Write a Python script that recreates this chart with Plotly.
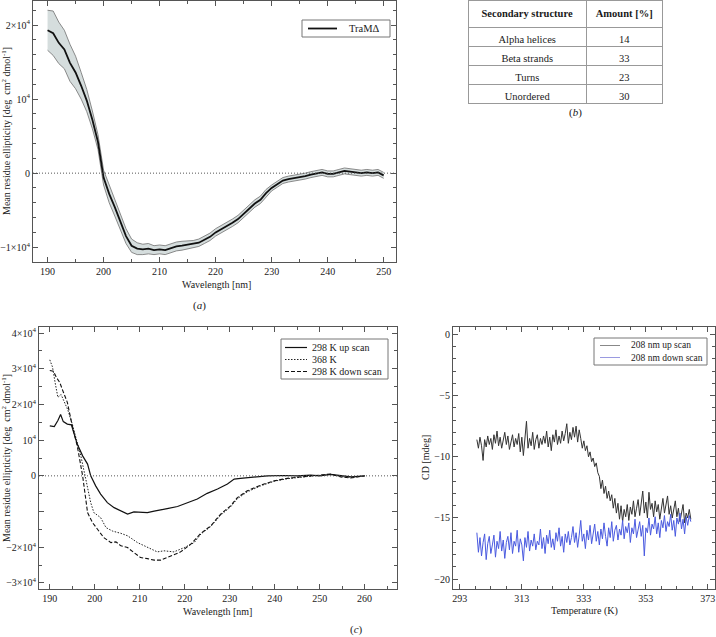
import plotly.graph_objects as go

W, H = 716, 637
FONT = "Liberation Serif"

# ---------------- panel (a): TraMΔ CD spectrum with SD band ----------------
wl_a = list(range(190, 251))
mean_a_1e4 = [1.93, 1.89, 1.76, 1.67, 1.49, 1.36, 1.18, 0.98, 0.72, 0.42,
              -0.06, -0.28, -0.46, -0.66, -0.85, -0.98, -1.02, -1.03, -1.02, -1.04,
              -1.03, -1.04, -1.01, -0.99, -0.98, -0.97, -0.96, -0.94, -0.90, -0.86,
              -0.80, -0.76, -0.72, -0.67, -0.62, -0.55, -0.48, -0.41, -0.36, -0.27,
              -0.20, -0.15, -0.10, -0.08, -0.07, -0.06, -0.04, -0.02, 0.00, 0.01,
              -0.01, -0.01, 0.01, 0.03, 0.02, 0.01, 0.00, 0.01, 0.00, 0.01,
              -0.03]
sd_a_1e4 = [0.27, 0.30, 0.28, 0.26, 0.25, 0.22, 0.18, 0.15, 0.12, 0.10,
            0.10, 0.12, 0.12, 0.11, 0.10, 0.09, 0.08, 0.07, 0.07, 0.06,
            0.06, 0.06, 0.06, 0.06, 0.06, 0.05, 0.05, 0.05, 0.05, 0.05,
            0.05, 0.05, 0.05, 0.05, 0.05, 0.05, 0.05, 0.05, 0.05, 0.05,
            0.04, 0.04, 0.04, 0.04, 0.04, 0.04, 0.04, 0.04, 0.04, 0.04,
            0.04, 0.04, 0.04, 0.04, 0.04, 0.04, 0.04, 0.04, 0.04, 0.04,
            0.04]
name_a = "TraMΔ"

# ---------------- panel (b): secondary structure table ----------------
table_header = ["Secondary structure", "Amount [%]"]
struct_names = ["Alpha helices", "Beta strands", "Turns", "Unordered"]
struct_amount = [14, 33, 23, 30]

# ---------------- panel (c): thermal scans ----------------
wl_up = [190, 191, 191.8, 192.4, 193, 193.9, 194.8, 195.4, 196.1, 197.3, 198.4, 199.1,
         200.2, 201.3, 202.8, 204.3, 205.8, 207.3, 208.7, 210.2, 211.7, 213.2, 214.7,
         216.1, 218.4, 220.6, 222.8, 225, 227.3, 229.5, 231, 232.4, 234.7, 236.1, 238.4,
         242, 245, 248, 250, 252.5, 255, 257, 260]
val_up_1e4 = [1.40, 1.38, 1.55, 1.72, 1.52, 1.45, 1.43, 1.21, 0.89, 0.56, 0.33, 0.0,
              -0.28, -0.51, -0.75, -0.89, -0.98, -1.07, -1.01, -1.01, -1.03, -0.99, -0.96,
              -0.92, -0.86, -0.75, -0.65, -0.49, -0.37, -0.23, -0.09, -0.07, -0.05, -0.02, 0.0,
              0.01, 0.0, 0.02, 0.0, 0.04, 0.0, -0.03, 0.0]
wl_hot = [190.0, 190.6, 191.2, 191.8, 192.5, 193.2, 194, 195, 196, 196.9, 198, 199.1, 199.8,
          201.3, 202.5, 204, 205.8, 207.3, 209.5, 211.7, 213.9, 215.4, 217.6, 219.9, 222.1,
          223.6, 225.8, 228, 230.2, 231.7, 233.9, 236.9, 239.9, 242.8, 245.8, 248.7, 252.4,
          254.7, 256.9, 260]
val_hot_1e4 = [3.25, 3.05, 2.6, 2.2, 2.28, 2.1, 1.85, 1.45, 1.0, 0.56, -0.09, -0.75, -1.03,
               -1.17, -1.45, -1.55, -1.61, -1.68, -1.87, -2.01, -2.13, -2.10, -2.13, -2.01, -1.87,
               -1.63, -1.42, -1.10, -0.87, -0.64, -0.45, -0.28, -0.15, -0.08, -0.03, 0.0, 0.04,
               -0.02, -0.04, 0.0]
wl_down = [190, 190.8, 191.5, 192.2, 193, 193.9, 195, 196.1, 197.3, 198.4, 199.5, 200.6, 202,
           203.6, 204.7, 205.8, 207.3, 208.7, 210.2, 211.7, 213.2, 214.7, 216.1, 217.6, 219.1,
           221.3, 223.6, 225.8, 228, 230.2, 231.7, 233.9, 236.9, 239.9, 242.8, 245.8, 248.7,
           252.4, 254.7, 256.9, 260]
val_down_1e4 = [2.95, 2.93, 2.75, 2.62, 2.35, 2.06, 1.40, 0.84, 0.0, -1.03, -1.31, -1.50, -1.73,
                -1.87, -1.85, -1.96, -2.01, -2.15, -2.29, -2.32, -2.36, -2.36, -2.29, -2.22, -2.13,
                -1.92, -1.61, -1.40, -1.07, -0.84, -0.61, -0.42, -0.26, -0.14, -0.07, -0.03, 0.0,
                0.05, -0.03, -0.06, 0.0]
names_c = ["298 K up scan", "368 K", "298 K down scan"]

# ---------------- panel (d): 208 nm melting curves ----------------
temp_d = [298.5, 299.0, 299.5, 300.0, 300.5, 301.0, 301.5, 302.0, 302.5, 303.0,
          303.5, 304.0, 304.5, 305.0, 305.5, 306.0, 306.5, 307.0, 307.5, 308.0,
          308.5, 309.0, 309.5, 310.0, 310.5, 311.0, 311.5, 312.0, 312.5, 313.0,
          313.5, 314.0, 314.5, 315.0, 315.5, 316.0, 316.5, 317.0, 317.5, 318.0,
          318.5, 319.0, 319.5, 320.0, 320.5, 321.0, 321.5, 322.0, 322.5, 323.0,
          323.5, 324.0, 324.5, 325.0, 325.5, 326.0, 326.5, 327.0, 327.5, 328.0,
          328.5, 329.0, 329.5, 330.0, 330.5, 331.0, 331.5, 332.0, 332.5, 333.0,
          333.5, 334.0, 334.5, 335.0, 335.5, 336.0, 336.5, 337.0, 337.5, 338.0,
          338.5, 339.0, 339.5, 340.0, 340.5, 341.0, 341.5, 342.0, 342.5, 343.0,
          343.5, 344.0, 344.5, 345.0, 345.5, 346.0, 346.5, 347.0, 347.5, 348.0,
          348.5, 349.0, 349.5, 350.0, 350.5, 351.0, 351.5, 352.0, 352.5, 353.0,
          353.5, 354.0, 354.5, 355.0, 355.5, 356.0, 356.5, 357.0, 357.5, 358.0,
          358.5, 359.0, 359.5, 360.0, 360.5, 361.0, 361.5, 362.0, 362.5, 363.0,
          363.5, 364.0, 364.5, 365.0, 365.5, 366.0, 366.5, 367.0, 367.5]
cd_up = [-8.6, -9.3, -8.4, -9.1, -10.3, -8.6, -9.2, -8.3, -9.0, -8.5,
         -9.4, -8.2, -8.9, -7.9, -9.1, -8.4, -9.3, -8.6, -8.0, -9.0,
         -8.3, -9.4, -8.7, -8.2, -9.2, -8.5, -9.0, -8.1, -9.6, -8.4,
         -9.9, -8.3, -7.1, -9.3, -8.5, -9.1, -8.0, -9.4, -8.6, -8.2,
         -9.3, -8.5, -9.0, -8.3, -8.9, -7.9, -9.2, -8.4, -9.5, -8.2,
         -8.8, -7.8, -9.0, -8.3, -8.9, -7.9, -8.7, -8.1, -7.3, -8.9,
         -8.0, -8.6, -7.6, -8.4, -7.5, -8.8, -7.8, -8.5, -9.3, -8.7,
         -9.5, -9.1, -10.0, -9.6, -10.4, -10.1, -10.8, -10.5, -11.3, -11.6,
         -12.6, -11.9, -13.0, -12.4, -13.4, -12.8, -13.6, -13.1, -14.2, -13.4,
         -14.6, -13.8, -15.1, -14.0, -15.3, -14.3, -14.9, -13.9, -15.2, -14.1,
         -14.7, -13.6, -14.9, -14.2, -13.5, -14.8, -13.9, -12.8, -14.6, -13.7,
         -15.0, -12.9, -14.3, -13.8, -14.9, -13.6, -14.5, -13.9, -15.1, -14.0,
         -13.4, -14.6, -13.8, -13.2, -14.7, -14.0, -15.0, -14.3, -13.6, -14.9,
         -14.2, -15.3, -14.4, -13.9, -15.4, -14.6, -15.0, -14.3, -15.1]
cd_down = [-16.2, -17.8, -16.6, -18.1, -17.0, -16.3, -18.4, -17.1, -16.5, -17.9,
           -17.2, -16.4, -18.2, -16.9, -17.5, -16.1, -17.7, -16.8, -18.3, -17.0,
           -16.5, -17.6, -16.2, -17.9, -16.9, -17.3, -16.0, -17.8, -16.7, -17.2,
           -18.5, -16.6, -17.4, -16.1, -17.7, -16.8, -17.3, -16.3, -17.6, -16.9,
           -17.2, -15.9, -17.5, -16.6, -17.9, -16.4, -17.1, -16.0, -17.4, -16.7,
           -17.6, -16.2, -16.9, -15.8, -17.3, -16.5, -17.8, -16.3, -17.0, -16.1,
           -17.2, -16.6, -15.7, -17.0, -16.2, -17.4, -16.4, -15.2, -16.9, -16.3,
           -17.5, -16.0, -16.8, -15.6, -17.1, -16.4, -15.5, -16.9, -16.1, -17.2,
           -15.9, -16.7, -15.4, -16.5, -17.3, -15.8, -16.6, -15.3, -16.9, -16.0,
           -15.6, -16.8, -15.9, -16.4, -15.2, -16.7, -15.7, -16.2, -15.4, -17.0,
           -15.8, -16.3, -15.1, -16.6, -15.9, -15.3, -16.5, -15.6, -18.1, -15.8,
           -16.2, -15.0, -16.4, -15.5, -15.9, -14.9, -16.3, -15.4, -16.6, -15.2,
           -15.8, -14.8, -16.1, -15.3, -15.7, -14.7, -16.0, -15.2, -16.5, -15.0,
           -15.5, -14.6, -15.9, -15.1, -16.3, -14.9, -15.6, -14.8, -15.3]
names_d = ["208 nm up scan", "208 nm down scan"]

# ---------------- helpers ----------------
def px(x):
    return x / W

def py(y):
    return 1 - y / H

def sc(v):
    return [a * 1e4 for a in v]

UP_COL = "#333333"
DOWN_COL = "#4a5ae0"
AX_COL = "#555555"
TXT = "#1a1a1a"
DOT = "1px,2px"
FINE_DOT = "1.5px,1.5px"
SHORT_DASH = "4px,2px"

fig = go.Figure()

# (a) band + mean
upper_a = [m + s for m, s in zip(mean_a_1e4, sd_a_1e4)]
lower_a = [m - s for m, s in zip(mean_a_1e4, sd_a_1e4)]
fig.add_trace(go.Scatter(x=wl_a, y=sc(upper_a), mode="lines",
                         line=dict(color="#707070", width=0.8), showlegend=False,
                         xaxis="x", yaxis="y", hoverinfo="skip"))
fig.add_trace(go.Scatter(x=wl_a, y=sc(lower_a), mode="lines", fill="tonexty",
                         fillcolor="#d5dddd", line=dict(color="#707070", width=0.8),
                         showlegend=False, xaxis="x", yaxis="y", hoverinfo="skip"))
fig.add_trace(go.Scatter(x=wl_a, y=sc(mean_a_1e4), mode="lines", name=name_a,
                         line=dict(color="#111111", width=1.8), showlegend=False,
                         xaxis="x", yaxis="y"))

# (c) three spectra
fig.add_trace(go.Scatter(x=wl_up, y=sc(val_up_1e4), mode="lines", name=names_c[0],
                         line=dict(color="#111111", width=1.2), showlegend=False,
                         xaxis="x2", yaxis="y2"))
fig.add_trace(go.Scatter(x=wl_hot, y=sc(val_hot_1e4), mode="lines", name=names_c[1],
                         line=dict(color="#222222", width=1, dash=FINE_DOT), showlegend=False,
                         xaxis="x2", yaxis="y2"))
fig.add_trace(go.Scatter(x=wl_down, y=sc(val_down_1e4), mode="lines", name=names_c[2],
                         line=dict(color="#111111", width=1.1, dash=SHORT_DASH), showlegend=False,
                         xaxis="x2", yaxis="y2"))

# (d) melting curves
fig.add_trace(go.Scatter(x=temp_d, y=cd_up, mode="lines", name=names_d[0],
                         line=dict(color=UP_COL, width=1), showlegend=False,
                         xaxis="x3", yaxis="y3"))
fig.add_trace(go.Scatter(x=temp_d, y=cd_down, mode="lines", name=names_d[1],
                         line=dict(color=DOWN_COL, width=1), showlegend=False,
                         xaxis="x3", yaxis="y3"))

# (b) table
fig.add_trace(go.Table(
    domain=dict(x=[px(468), px(663)], y=[py(108), py(0)]),
    columnwidth=[119, 76],
    header=dict(values=["<b>%s</b>" % h for h in table_header],
                height=19, align="center", line=dict(color="#999999", width=1),
                fill=dict(color="white"),
                font=dict(family=FONT, size=10.5, color=TXT)),
    cells=dict(values=[struct_names, struct_amount], height=19, align="center",
               line=dict(color="#999999", width=1), fill=dict(color="white"),
               font=dict(family=FONT, size=10.5, color=TXT)),
))

tickfont = dict(family=FONT, size=10, color="#222222")

def axis(domain, rng, **kw):
    d = dict(domain=domain, range=rng, showline=True, linecolor=AX_COL, linewidth=1,
             mirror="ticks", ticks="inside", ticklen=5, tickcolor=AX_COL, tickwidth=1,
             showgrid=False, zeroline=False, tickfont=tickfont, ticklabeloverflow="allow")
    d.update(kw)
    return d

def minor(dt, t0=0):
    return dict(dtick=dt, tick0=t0, ticks="inside", ticklen=3, tickcolor=AX_COL, showgrid=False)

fig.update_layout(
    width=W, height=H, margin=dict(l=0, r=0, t=0, b=0),
    paper_bgcolor="white", plot_bgcolor="white", showlegend=False,
    xaxis=axis([px(33), px(396)], [187.4, 252.2], anchor="y", tick0=190, dtick=10,
               minor=minor(5, 190)),
    yaxis=axis([py(262), py(1)], [-12000, 23250], anchor="x",
               tickvals=[-1e4, 0, 1e4, 2e4],
               ticktext=["−1×10<sup>4</sup>", "0", "10<sup>4</sup>", "2×10<sup>4</sup>"],
               minor=minor(2000, 0)),
    xaxis2=axis([px(39), px(397)], [187.6, 267.2], anchor="y2", tick0=190, dtick=10,
                minor=minor(5, 190)),
    yaxis2=axis([py(589), py(327)], [-31700, 41700], anchor="x2",
                tickvals=[-3e4, -2e4, -1e4, 0, 1e4, 2e4, 3e4, 4e4],
                ticktext=["−3×10<sup>4</sup>", "−2×10<sup>4</sup>", "", "0", "10<sup>4</sup>",
                          "2×10<sup>4</sup>", "3×10<sup>4</sup>", "4×10<sup>4</sup>"],
                minor=minor(5000, 0)),
    xaxis3=axis([px(453), px(715)], [290.8, 375.3], anchor="y3", tick0=293, dtick=20,
                minor=minor(5, 293)),
    yaxis3=axis([py(589), py(327)], [-20.8, 0.6], anchor="x3", tick0=0, dtick=5,
                minor=minor(1, 0)),
)

shapes = []
# zero reference lines
for xr, yr in (("x domain", "y"), ("x2 domain", "y2")):
    shapes.append(dict(type="line", xref=xr, yref=yr, x0=0, x1=1, y0=0, y1=0,
                       line=dict(color="#555555", width=1, dash=DOT)))

annotations = []

def ann(text, x, y, size=10, angle=0, xanchor="center"):
    annotations.append(dict(text=text, x=px(x), y=py(y), xref="paper", yref="paper",
                            showarrow=False, textangle=angle, xanchor=xanchor,
                            yanchor="middle",
                            font=dict(family=FONT, size=size, color=TXT)))

ytitle = "Mean residue ellipticity [deg  cm<sup>2</sup> dmol<sup>-1</sup>]"
ann(ytitle, 6, 131, angle=-90)
ann(ytitle, 6, 458, angle=-90)
ann("CD [mdeg]", 425, 458, angle=-90)
ann("Wavelength [nm]", 216, 285)
ann("Wavelength [nm]", 217, 611)
ann("Temperature (K)", 584, 611)
ann("(<i>a</i>)", 199, 305, size=11)
ann("(<i>b</i>)", 575, 113, size=11)
ann("(<i>c</i>)", 356, 629, size=11)

# manual legends
def legend_box(x0, y0, x1, y1):
    shapes.append(dict(type="rect", xref="paper", yref="paper", x0=px(x0), x1=px(x1),
                       y0=py(y1), y1=py(y0), line=dict(color="#777777", width=1),
                       fillcolor="white", layer="above"))

def legend_item(lx0, lx1, y, tx, text, color, dash="solid", width=1.2, size=10):
    shapes.append(dict(type="line", xref="paper", yref="paper", x0=px(lx0), x1=px(lx1),
                       y0=py(y), y1=py(y), line=dict(color=color, width=width, dash=dash),
                       layer="above"))
    ann(text, tx, y, xanchor="left", size=size)

legend_box(302, 20, 390, 37)
legend_item(308, 337, 28.5, 347, name_a, "#111111", width=1.8, size=10.5)

legend_box(281, 339, 388, 379)
legend_item(285, 307, 347.5, 310, names_c[0], "#111111")
legend_item(285, 307, 359.5, 310, names_c[1], "#222222", dash=FINE_DOT, width=1)
legend_item(285, 307, 371.5, 310, names_c[2], "#111111", dash=SHORT_DASH, width=1.1)

legend_box(594, 338, 707, 365)
legend_item(600, 620, 345.5, 629, names_d[0], "#888888", width=1, size=9.5)
legend_item(600, 620, 357.5, 629, names_d[1], "#9a9ae0", width=1, size=9.5)

fig.update_layout(shapes=shapes, annotations=annotations)

# remove the default 8px page margin so the figure sits at the window's origin
fig.write_html("out.html", config={"displayModeBar": False},
               post_script="document.body.style.margin='0';document.body.style.overflow='hidden';")
